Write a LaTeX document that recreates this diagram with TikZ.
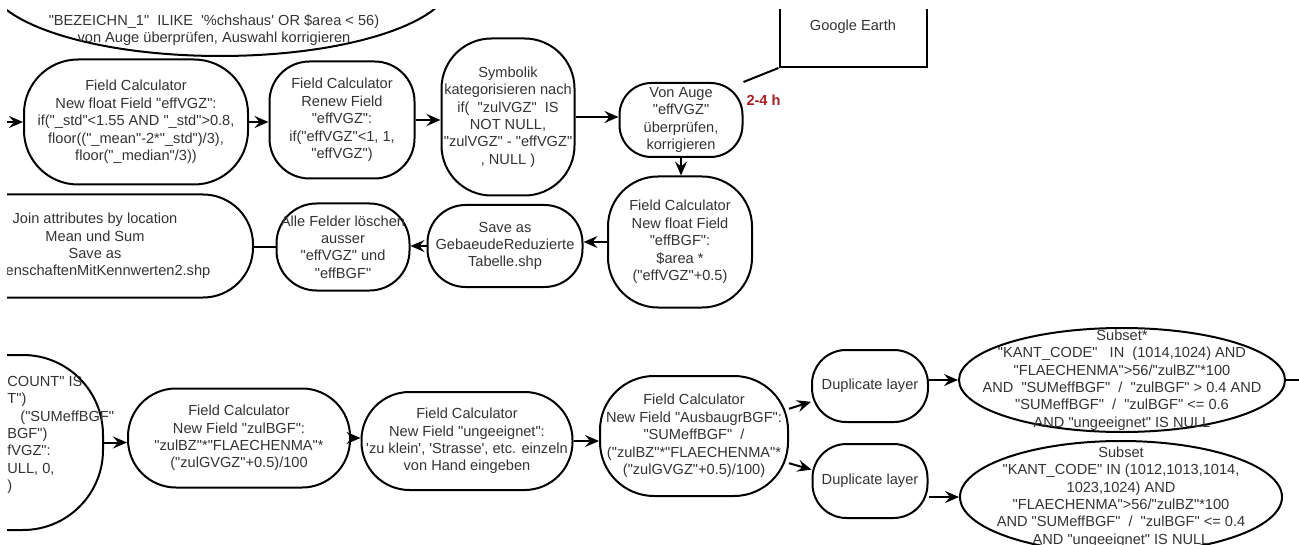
\documentclass[tikz,border=0pt]{standalone}
\usepackage{fontspec}
\setmainfont{Liberation Sans}[Ligatures=TeXOff]
\usetikzlibrary{arrows.meta,shapes.geometric,positioning,calc}

\definecolor{txtgray}{RGB}{51,51,51}
\definecolor{hoursred}{RGB}{168,30,36}
\newcommand{\flowfont}{\fontsize{7.3}{8.7}\selectfont}

\tikzset{
  plain/.style={align=center, text=txtgray, inner sep=0pt, font=\flowfont},
  flow/.style={plain, draw=black, line width=1pt},
  pill/.style={flow, rectangle, rounded corners=#1},
  oval/.style={flow, ellipse, inner xsep=-20pt, inner ysep=-12pt},
  arr/.style={-{Stealth[length=7pt,width=6pt,inset=2.5pt]}, line width=1pt},
  link/.style={line width=1pt},
}

\begin{document}
\begin{tikzpicture}[x=0.5pt, y=-0.5pt]
\useasboundingbox (0,0) rectangle (1299,545);
\fill[white] (0,0) rectangle (1299,545);
\clip (7,10) rectangle (1299,545);

% Selection, cut at the top
\node[oval, minimum width=232pt, minimum height=76pt] (select) at (220,-20) {};
\node[plain] (selecttext) at (214,30) {"BEZEICHN\_1"\ \ ILIKE\ \ '\%chshaus' OR \$area < 56)\\von Auge überprüfen, Auswahl korrigieren};

% Upper row
\coordinate (in) at (0,122);
\node[pill=27pt, minimum width=112pt, minimum height=62.5pt] (vgz) at (136,122) {Field Calculator\\New float Field "effVGZ":\\if("\_std"<1.55 AND "\_std">0.8,\\floor(("\_mean"-2*"\_std")/3),\\floor("\_median"/3))};
\node[pill=20pt, minimum width=72.5pt, minimum height=58.5pt] (renew) at (342,120) {Field Calculator\\Renew Field\\"effVGZ":\\if("effVGZ"<1, 1,\\"effVGZ")};
\node[pill=25pt, minimum width=66.5pt, minimum height=78.5pt] (symb) at (508,117) {Symbolik\\kategorisieren nach\\if(\ \ "zulVGZ"\ \ IS\\NOT NULL,\\"zulVGZ" - "effVGZ"\\, NULL )};
\node[pill=16pt, minimum width=61.5pt, minimum height=37pt] (check) at (681,120) {Von Auge\\"effVGZ"\\überprüfen,\\korrigieren};
\node[flow, rectangle, minimum width=73.5pt, minimum height=40pt] (earth) at (853,27) {Google Earth};

% Second row, right to left
\node[pill=25pt, minimum width=72pt, minimum height=65.5pt] (bgf) at (680,242) {Field Calculator\\New float Field\\"effBGF":\\\$area *\\("effVGZ"+0.5)};
\node[pill=19pt, minimum width=77.5pt, minimum height=41pt] (save) at (505,246) {Save as\\GebaeudeReduzierte\\Tabelle.shp};
\node[pill=20pt, minimum width=66.5pt, minimum height=43.5pt] (drop) at (343,247) {Alle Felder löschen\\ausser\\"effVGZ" und\\"effBGF"};
\node[pill=25pt, minimum width=158pt, minimum height=51.5pt] (join) at (95,246) {Join attributes by location\\Mean und Sum\\Save as\\\hspace*{13pt}enschaftenMitKennwerten2.shp};

% Lower row
\node[pill=40pt, minimum width=126.5pt, minimum height=87.5pt] (count) at (-23.5,442.5) {};
\node[plain, align=left, anchor=west] (counttext) at (7,435) {COUNT" IS\\T")\\\hspace*{6.5pt}("SUMeffBGF"\\BGF")\\fVGZ":\\ULL, 0,\\)};
\node[pill=24pt, minimum width=111pt, minimum height=49.5pt] (zul) at (239,438) {Field Calculator\\New Field "zulBGF":\\"zulBZ"*"FLAECHENMA"*\\("zulGVGZ"+0.5)/100};
\node[pill=24pt, minimum width=105.5pt, minimum height=49pt] (unfit) at (467,441) {Field Calculator\\New Field "ungeeignet":\\'zu klein', 'Strasse', etc. einzeln\\von Hand eingeben};
\node[pill=27pt, minimum width=94pt, minimum height=60pt] (ausbau) at (694,436) {Field Calculator\\New Field "AusbaugrBGF":\\"SUMeffBGF"\ \ /\\("zulBZ"*"FLAECHENMA"*\\("zulGVGZ"+0.5)/100)};
\node[pill=17pt, minimum width=58pt, minimum height=36pt] (dup1) at (870,386) {Duplicate layer};
\node[pill=17pt, minimum width=57.5pt, minimum height=37pt] (dup2) at (870,481) {Duplicate layer};
\node[oval, minimum width=163pt, minimum height=52pt] (sub1) at (1122,380) {Subset*\\"KANT\_CODE"\ \ \ IN\ \ (1014,1024) AND\\"FLAECHENMA">56/"zulBZ"*100\\AND\ \ "SUMeffBGF"\ \ /\ \ "zulBGF" > 0.4 AND\\"SUMeffBGF"\ \ /\ \ "zulBGF" <= 0.6\\AND "ungeeignet" IS NULL};
\node[oval, minimum width=161pt, minimum height=56pt] (sub2) at (1121,497) {Subset\\"KANT\_CODE" IN (1012,1013,1014,\\1023,1024) AND\\"FLAECHENMA">56/"zulBZ"*100\\AND "SUMeffBGF"\ \ /\ \ "zulBGF" <= 0.4\\AND "ungeeignet" IS NULL};
\coordinate (out) at (1310,380);

% Connectors
\draw[arr] (in) -- (vgz.west);
\draw[arr] (vgz.east) -- (vgz.east -| renew.west);
\draw[arr] (renew.east) -- (renew.east -| symb.west);
\draw[arr] (symb.east) -- (symb.east -| check.west);
\draw[arr] (check.south) -- (check.south |- bgf.north);
\draw[link] (check.north east) -- node[pos=0, anchor=north west, xshift=1pt, yshift=-6pt, inner sep=0pt, font=\flowfont\bfseries, text=hoursred] (hours) {2-4 h} (earth.south west);
\draw[arr] (bgf.west) -- (bgf.west -| save.east);
\draw[arr] (save.west) -- (save.west -| drop.east);
\draw[link] (drop.west) -- (drop.west -| join.east);
\draw[arr] (count.east) -- (count.east -| zul.west);
\draw[arr] (zul.east) -- (zul.east -| unfit.west);
\draw[arr] (unfit.east) -- (unfit.east -| ausbau.west);
\draw[arr] (ausbau.16) -- (dup1.195);
\draw[arr] (ausbau.-16) -- (dup2.169);
\draw[arr] (dup1.east |- sub1.west) -- (sub1.west);
\draw[arr] (dup2.east |- sub2.west) -- (sub2.west);
\draw[link] (sub1.east) -- (out);
\end{tikzpicture}
\end{document}
